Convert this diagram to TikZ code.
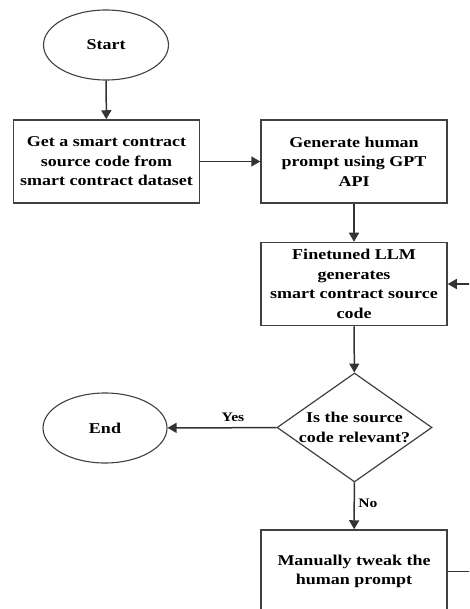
\documentclass[tikz,border=0pt]{standalone}
\usepackage{fontspec}
\setmainfont{Liberation Serif}[FakeStretch=1.2]
\usetikzlibrary{shapes.geometric,arrows.meta}
\begin{document}
\begin{tikzpicture}[x=1pt,y=-1pt,
  every node/.style={font=\fontsize{15}{19.5}\selectfont\bfseries, text=black},
  line/.style={draw=black!80, line width=1.5pt},
  arr/.style={line, -{Triangle[width=10pt,length=9pt]}},
  term/.style={ellipse, draw=black!75, line width=1.1pt, minimum width=125pt, minimum height=70pt, inner sep=0pt},
  proc/.style={rectangle, draw=black!75, line width=1.5pt, minimum width=186pt, minimum height=83pt, align=center, inner sep=2pt},
  decide/.style={diamond, draw=black!75, line width=1.2pt, minimum width=155pt, minimum height=109pt, inner sep=0pt, align=center, aspect=1.42},
  lbl/.style={font=\fontsize{13}{15}\selectfont\bfseries}
]
\useasboundingbox (0,0) rectangle (469,609);
\clip (0,0) rectangle (469,609);
\node[term] (start) at (106,45) {Start};
\node[proc] (get) at (106.5,161.5) {Get a smart contract\\source code from\\smart contract dataset};
\node[proc] (gen) at (354,161.5) {Generate human\\prompt using GPT\\API};
\node[proc] (llm) at (354,284) {Finetuned LLM\\generates\\smart contract source\\code};
\node[decide] (dec) at (354.5,427.5) {Is the source\\code relevant?};
\node[term, minimum width=124pt] (end) at (105,428) {End};
\node[proc] (tweak) at (354,571.5) {Manually tweak the\\human prompt};
\coordinate (loopR) at (490,571.5);
\coordinate (loopT) at (490,284);
\draw[arr] (start) -- (get);
\draw[arr] (get) -- (gen);
\draw[arr] (gen) -- (llm);
\draw[arr] (llm) -- (dec);
\draw[arr] (dec) -- node[lbl, above, pos=0.4, yshift=2pt] {Yes} (end);
\draw[arr] (dec) -- node[lbl, right, pos=0.45] {No} (tweak);
\draw[arr] (tweak.east) -- (loopR) -- (loopT) -- (llm.east);
\end{tikzpicture}
\end{document}
